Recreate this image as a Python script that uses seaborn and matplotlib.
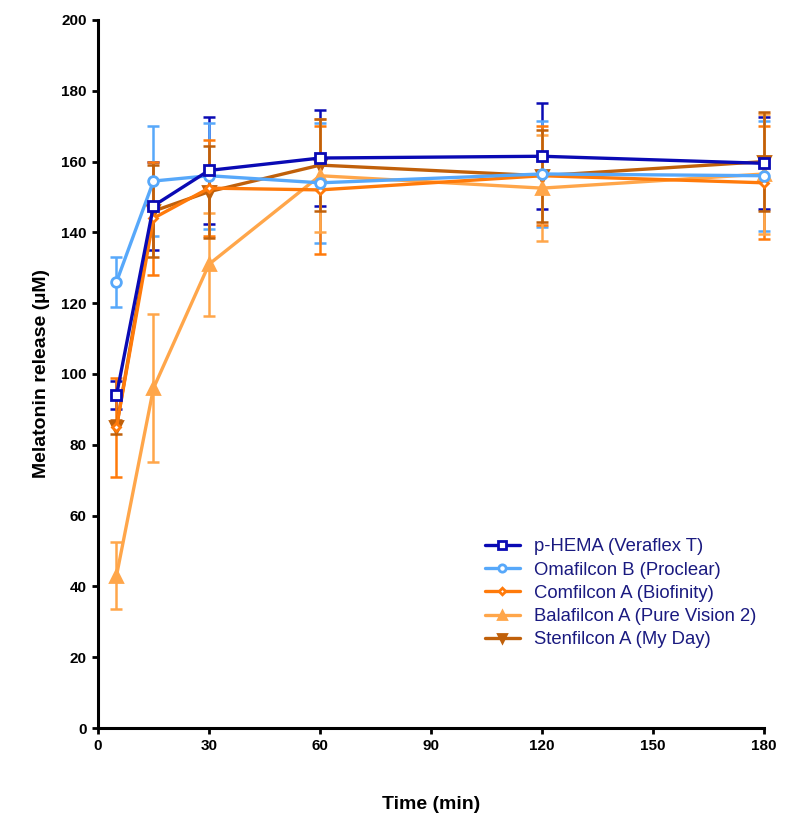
import matplotlib
matplotlib.use('Agg')
import matplotlib.pyplot as plt
import seaborn as sns
import pandas as pd

time_min = [5, 15, 30, 60, 120, 180]

names = ['p-HEMA (Veraflex T)', 'Omafilcon B (Proclear)', 'Comfilcon A (Biofinity)',
         'Balafilcon A (Pure Vision 2)', 'Stenfilcon A (My Day)']

phema_mean = [94, 147.5, 157.5, 161, 161.5, 159.5]
phema_sd = [4, 12.5, 15, 13.5, 15, 13]
omafilcon_mean = [126, 154.5, 156, 154, 156.5, 156]
omafilcon_sd = [7, 15.5, 15, 17, 15, 15.5]
comfilcon_mean = [85, 144, 152.5, 152, 156, 154]
comfilcon_sd = [14, 16, 13.5, 18, 14, 16]
balafilcon_mean = [43, 96, 131, 156, 152.5, 156.5]
balafilcon_sd = [9.5, 21, 14.5, 16, 15, 17]
stenfilcon_mean = [85, 146, 151.5, 159, 156, 160]
stenfilcon_sd = [2, 13, 13, 13, 13, 14]

means = [phema_mean, omafilcon_mean, comfilcon_mean, balafilcon_mean, stenfilcon_mean]
sds = [phema_sd, omafilcon_sd, comfilcon_sd, balafilcon_sd, stenfilcon_sd]
colors = ['#0a0ab4', '#57a8fa', '#ff7a0a', '#ffa64a', '#c0600a']
markers = ['s', 'o', 'D', '^', 'v']
fills = ['white', 'white', 'white', None, None]
msizes = [7, 7, 4.5, 8, 8]

rows = []
for name, m, s in zip(names, means, sds):
    for t, v, e in zip(time_min, m, s):
        rows.append({'time': t, 'release': v, 'sd': e, 'lens': name})
df = pd.DataFrame(rows)

sns.set_style('ticks')
plt.rcParams['font.family'] = ['Liberation Sans', 'DejaVu Sans']

fig = plt.figure(figsize=(7.87, 8.18), dpi=100)
ax = fig.add_axes([0.1245, 0.11, 0.8465, 0.8656])

# draw back to front so p-HEMA sits on top
for i in [4, 3, 2, 1, 0]:
    sub = df[df['lens'] == names[i]]
    eb = ax.errorbar(sub['time'], sub['release'], yerr=sub['sd'], fmt='none',
                     ecolor=colors[i], elinewidth=1.8, capsize=4, capthick=1.8,
                     zorder=2 + i * 0.1)
    for art in eb.lines[1] + eb.lines[2]:
        art.set_clip_on(False)
    sns.lineplot(data=sub, x='time', y='release', ax=ax, color=colors[i], linewidth=2.4,
                 marker=markers[i], markersize=msizes[i],
                 markerfacecolor=fills[i] if fills[i] else colors[i],
                 markeredgecolor=colors[i], markeredgewidth=2,
                 label=names[i], zorder=3 + (4 - i), clip_on=False)

ax.set_xlim(0, 180)
ax.set_ylim(0, 200)
ax.set_xticks(range(0, 181, 30))
ax.set_yticks(range(0, 201, 20))
ax.tick_params(axis='both', width=2, length=4, labelsize=11, direction='out',
               color='black', labelcolor='black', pad=4)
for lbl in ax.get_xticklabels() + ax.get_yticklabels():
    lbl.set_fontweight('bold')
for sp in ['left', 'bottom']:
    ax.spines[sp].set_linewidth(2.2)
    ax.spines[sp].set_color('black')
sns.despine(ax=ax)

ax.set_xlabel('Time (min)', fontsize=14, fontweight='bold', labelpad=31, color='black')
ax.set_ylabel('Melatonin release (µM)', fontsize=14, fontweight='bold', labelpad=8, color='black')

handles, labels = ax.get_legend_handles_labels()
order = [labels.index(n) for n in names]
leg = ax.legend([handles[k] for k in order], [labels[k] for k in order],
                loc='lower right', bbox_to_anchor=(1.0, 0.102), borderaxespad=0,
                frameon=False, fontsize=13.3, handlelength=1.9, handletextpad=0.8,
                labelspacing=0.34, markerscale=0.75)
for txt in leg.get_texts():
    txt.set_color('#1a1a80')

fig.savefig('out.png', dpi=100)
